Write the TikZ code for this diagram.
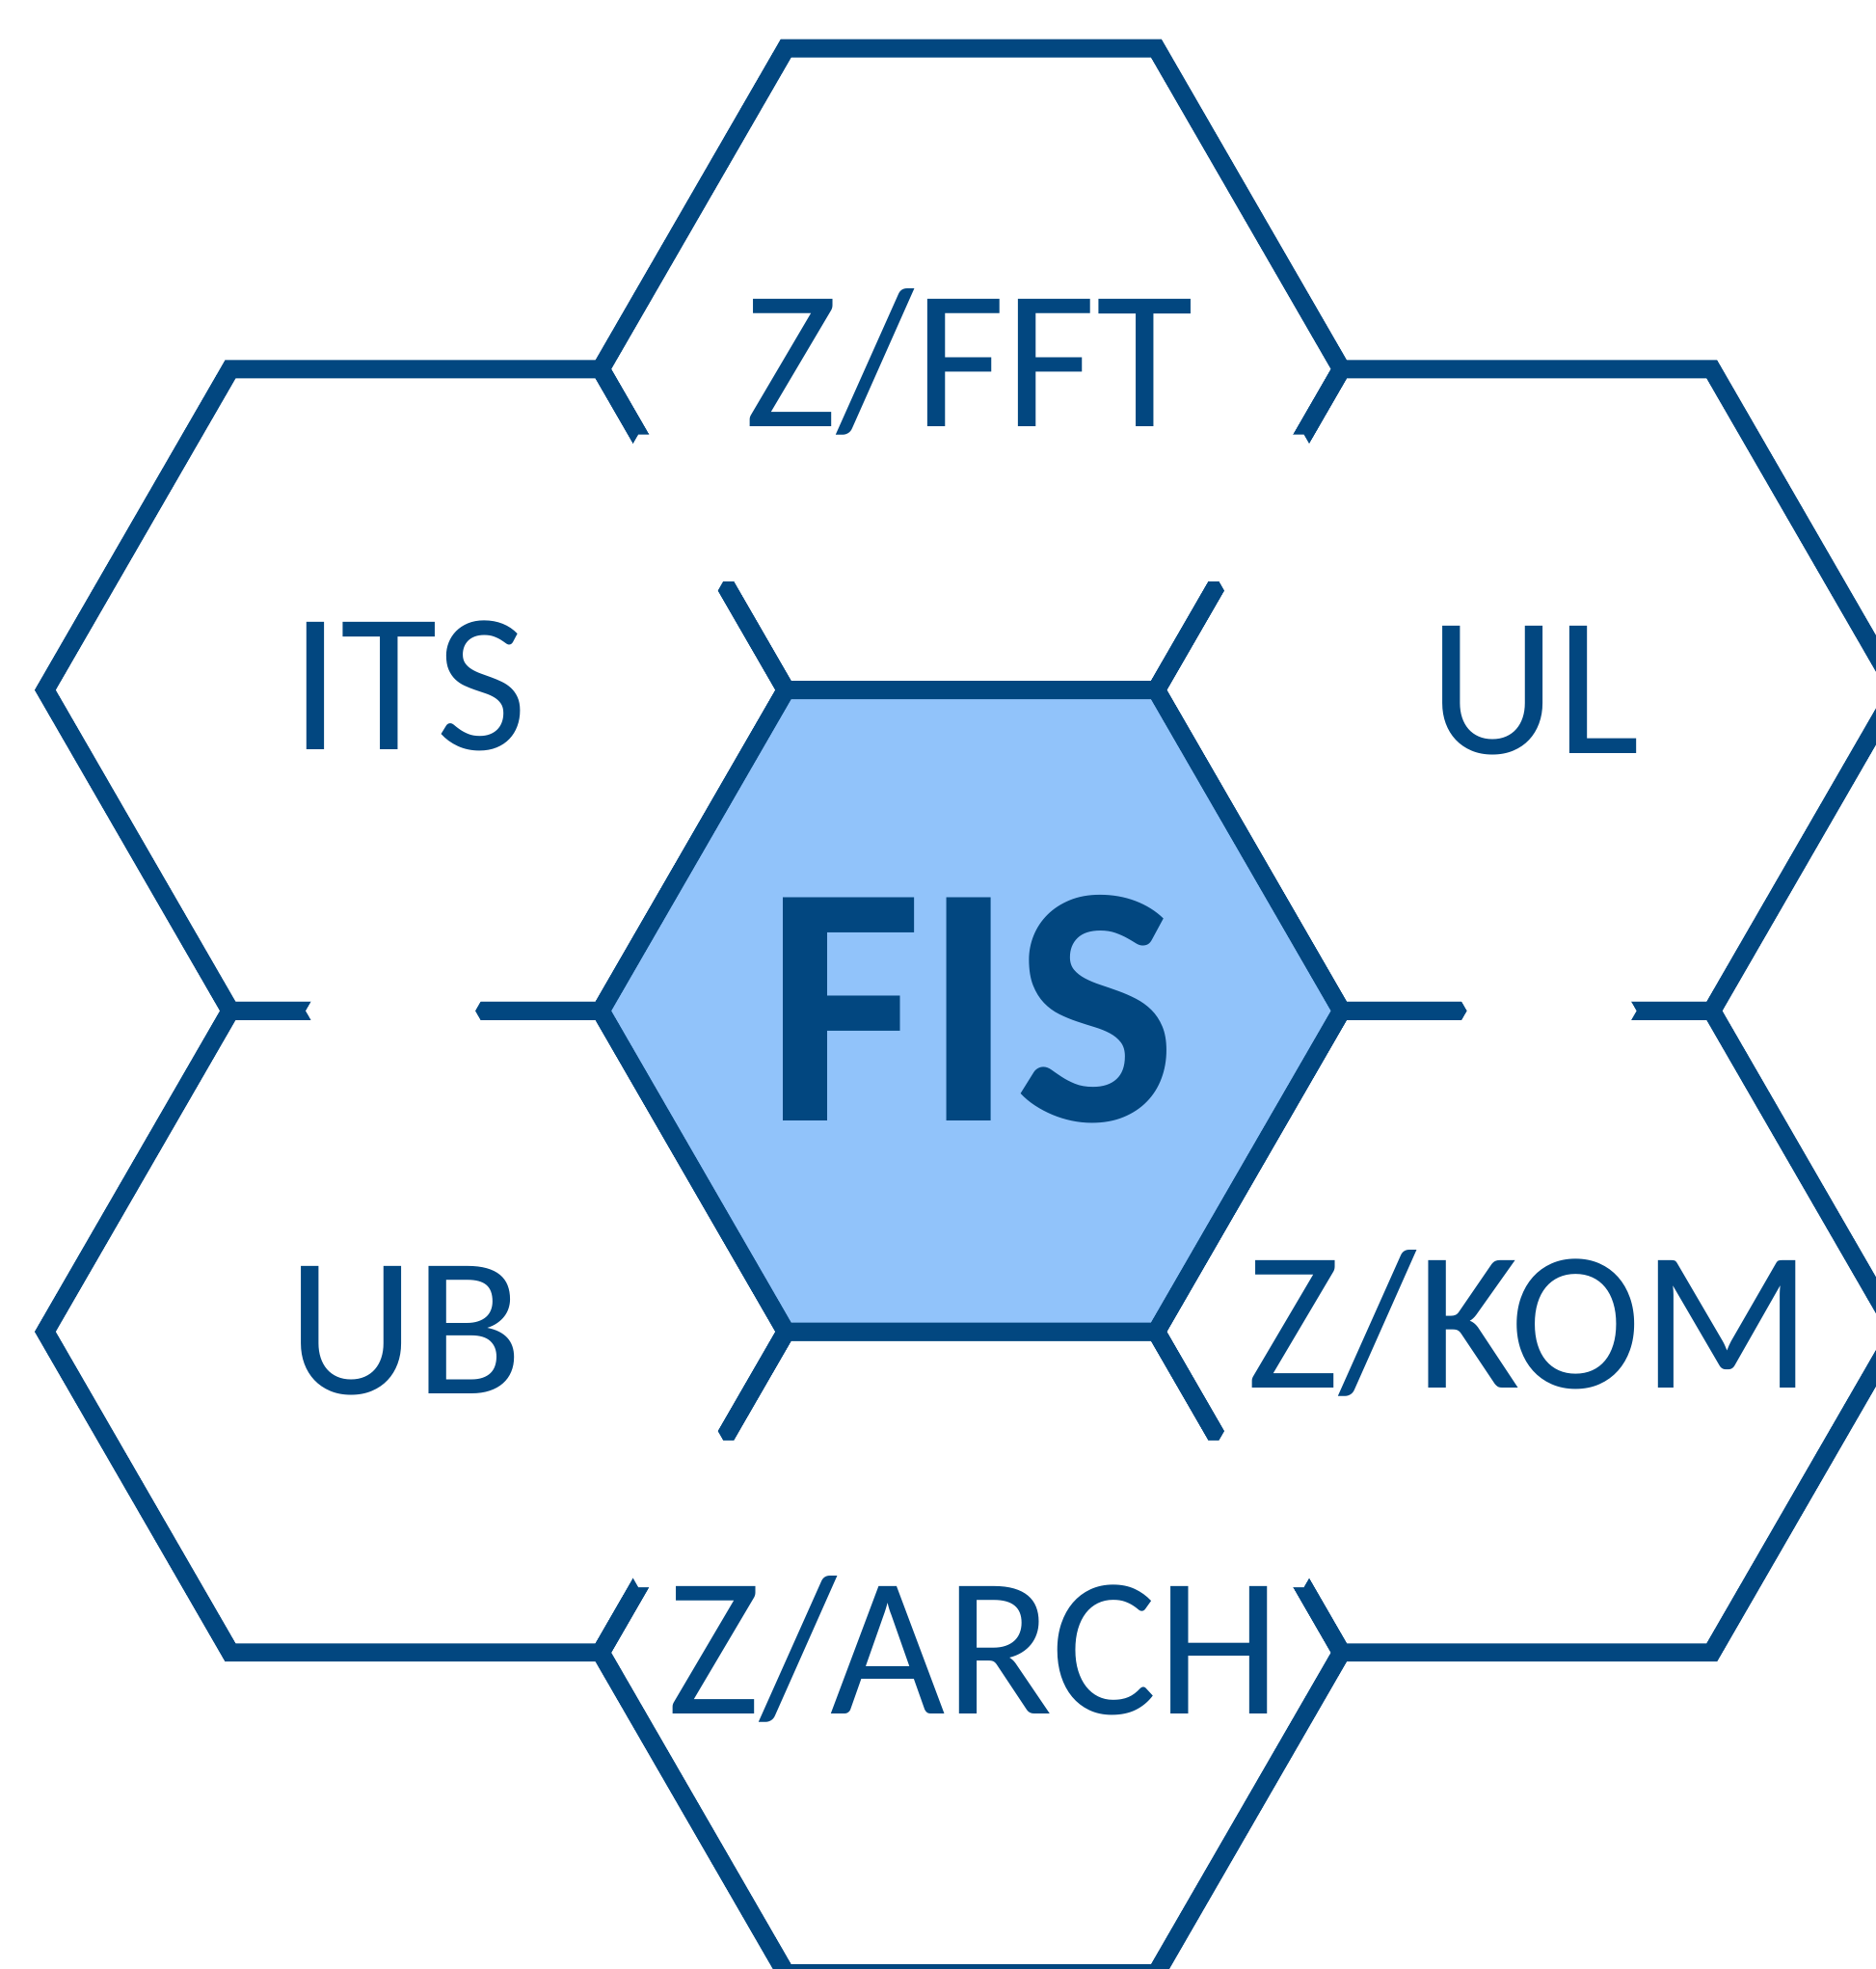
\documentclass[tikz,border=0pt]{standalone}
\usepackage{fontspec}
\setmainfont{Carlito}
\definecolor{hexblue}{RGB}{2,71,128}
\definecolor{hexfill}{RGB}{145,195,250}

\begin{document}
\begin{tikzpicture}[
  hexline/.style={draw=hexblue, line width=0.145cm},
  hexlabel/.style={text=hexblue, anchor=base, inner sep=0pt, font=\fontsize{45pt}{54pt}\selectfont}
]
\def\R{2.95}
\useasboundingbox (-7.735,-7.63) rectangle (7.205,8.05);

% outer ring of cells
\foreach \cx/\cy in {0/5.11, -4.425/2.555, 4.425/2.555, -4.425/-2.555, 4.425/-2.555, 0/-5.11}
  \draw[hexline, shift={(\cx,\cy)}] (0:\R) -- (60:\R) -- (120:\R) -- (180:\R) -- (240:\R) -- (300:\R) -- cycle;

% gaps in the shared edges
\fill[white, even odd rule]
  (0:5.3) -- (60:5.3) -- (120:5.3) -- (180:5.3) -- (240:5.3) -- (300:5.3) -- cycle
  (0:3.95) -- (60:3.95) -- (120:3.95) -- (180:3.95) -- (240:3.95) -- (300:3.95) -- cycle;

% centre cell
\draw[hexline, fill=hexfill] (0:\R) -- (60:\R) -- (120:\R) -- (180:\R) -- (240:\R) -- (300:\R) -- cycle;

% labels
\node[hexlabel] (fft) at (-0.015,4.65) {Z/FFT};
\node[hexlabel] (its) at (-4.475,2.08) {ITS};
\node[hexlabel] (ul) at (4.485,2.05) {UL};
\node[hexlabel] (ub) at (-4.505,-3.05) {UB};
\node[hexlabel] (kom) at (4.445,-3.0) {Z/KOM};
\node[hexlabel] (arch) at (0.025,-5.6) {Z/ARCH};
\node[hexlabel, font=\bfseries\fontsize{78pt}{94pt}\selectfont] (fis) at (0,-0.88) {FIS};

\end{tikzpicture}
\end{document}
